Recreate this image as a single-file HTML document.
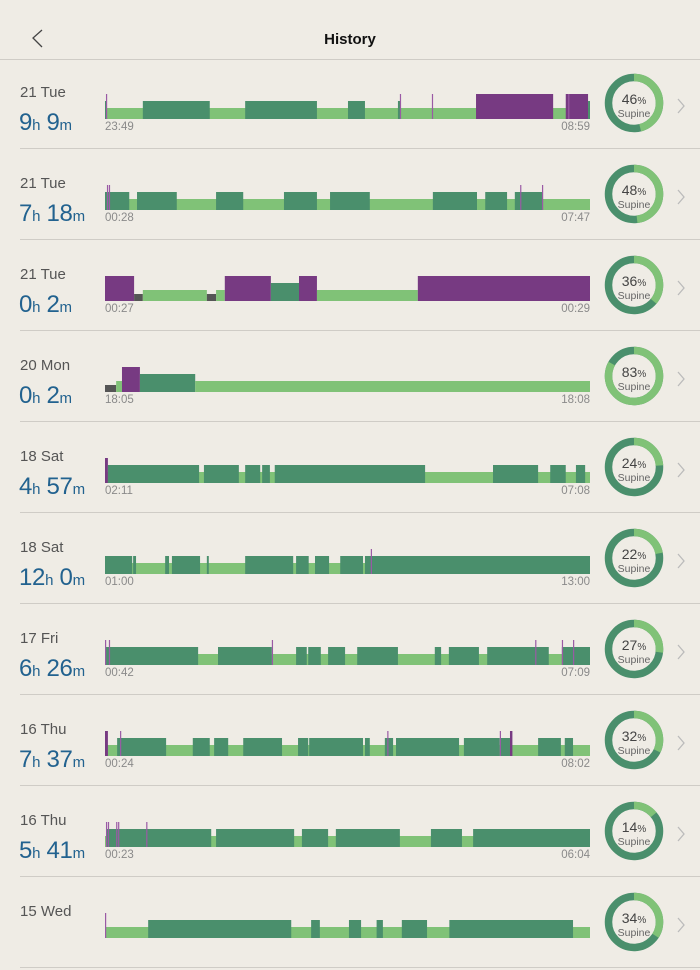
<!DOCTYPE html>
<html><head><meta charset="utf-8"><style>
body{margin:0;width:700px;height:934px;overflow:hidden;background:#efece5;font-family:"Liberation Sans",sans-serif;position:relative}
.hdr{position:absolute;left:0;top:0;width:700px;height:59px;border-bottom:1px solid #cfccc6}
.title{position:absolute;left:0;width:700px;top:31px;text-align:center;font-size:15px;font-weight:bold;color:#111}
.row{position:absolute;left:0;width:700px;height:91px}
.sep{position:absolute;left:20px;right:0;bottom:2px;height:1px;background:#cfccc6}
.date{position:absolute;left:20px;top:24px;font-size:15px;color:#555}
.dur{position:absolute;left:19px;top:49px;font-size:24px;color:#22628f;white-space:nowrap;letter-spacing:-0.3px}
.dur small{font-size:15px}
.t{position:absolute;top:61px;font-size:11.5px;color:#8a8a8a}
svg.bar{position:absolute;left:0;top:0}
</style></head><body>
<div class="hdr">
<svg style="position:absolute;left:30px;top:28px" width="16" height="22"><polyline points="12,2 3,10 12,19" fill="none" stroke="#444" stroke-width="1.3"/></svg>
<div class="title">History</div>
</div>
<div id="list"></div>
<script>
const dates=["21 Tue","21 Tue","21 Tue","20 Mon","18 Sat","18 Sat","17 Fri","16 Thu","16 Thu","15 Wed"];
const hours=[9,7,0,0,4,12,6,7,5,""];
const mins=[9,18,2,2,57,0,26,37,41,""];
const startTimes=["23:49","00:28","00:27","18:05","02:11","01:00","00:42","00:24","00:23",""];
const endTimes=["08:59","07:47","00:29","18:08","07:08","13:00","07:09","08:02","06:04",""];
const supine=[46,48,36,83,24,22,27,32,14,34];
// segments: [start%, end%, type] type: L light, D dark, P purple, G gray
const segments=[
[[0,100,"L"],[0,0.4,"D"],[7.8,21.6,"D"],[28.9,43.7,"D"],[50.1,53.6,"D"],[60.4,61,"D"],[76.5,92.4,"P"],[95,99.6,"P"],[99.6,100,"D"]],
[[0,100,"L"],[0,5,"D"],[6.6,14.8,"D"],[22.9,28.5,"D"],[36.9,43.7,"D"],[46.4,54.6,"D"],[67.6,76.7,"D"],[78.4,82.9,"D"],[84.5,90.1,"D"]],
[[0,6,"P"],[6,7.8,"G"],[7.8,21,"L"],[21,22.9,"G"],[22.9,24.7,"L"],[24.7,34.2,"P"],[34.2,40,"D"],[40,43.7,"P"],[43.7,64.5,"L"],[64.5,100,"P"]],
[[0,2.3,"G"],[2.3,3.5,"L"],[3.5,7.2,"P"],[7.2,18.6,"D"],[18.6,100,"L"]],
[[0,100,"L"],[0,0.6,"P"],[0.6,19.4,"D"],[20.4,27.6,"D"],[28.9,32,"D"],[32.4,34,"D"],[35,66,"D"],[80,89.3,"D"],[91.8,95,"D"],[97.1,99,"D"]],
[[0,100,"L"],[0,5.6,"D"],[5.8,6.4,"D"],[12.4,13.2,"D"],[13.8,19.6,"D"],[21,21.4,"D"],[28.9,38.8,"D"],[39.4,42,"D"],[43.3,46.2,"D"],[48.5,53.2,"D"],[53.6,100,"D"]],
[[0,100,"L"],[0,19.2,"D"],[23.3,34.4,"D"],[39.4,41.6,"D"],[41.9,44.5,"D"],[46,49.5,"D"],[52,60.4,"D"],[68,69.3,"D"],[70.9,77.1,"D"],[78.8,91.5,"D"],[94.2,100,"D"]],
[[0,100,"L"],[0,0.6,"P"],[2.5,12.6,"D"],[18.1,21.6,"D"],[22.5,25.4,"D"],[28.5,36.5,"D"],[39.8,41.9,"D"],[42.1,53.2,"D"],[53.6,54.6,"D"],[57.7,59.4,"D"],[60,73,"D"],[74,81.4,"D"],[81.6,83.5,"D"],[83.5,84,"P"],[89.3,94,"D"],[94.8,96.5,"D"]],
[[0,100,"L"],[0.4,21.9,"D"],[22.9,39,"D"],[40.6,46,"D"],[47.6,60.8,"D"],[67.2,73.6,"D"],[75.9,100,"D"]],
[[0,100,"L"],[8.9,38.4,"D"],[42.5,44.3,"D"],[50.3,52.8,"D"],[56,57.3,"D"],[61.2,66.4,"D"],[71,96.5,"D"]]
];
// thin movement lines (position %)
const ticks=[[0.2,60.8,67.4,95.5],[0.4,0.8,85.6,90.1],[],[],[],[54.8],[0,0.8,34.4,88.7,94.2,96.5],[3.1,58.2,81.4],[0.2,0.6,2.3,2.7,8.5],[0]];
const X0=105,W=485,BOT=59;
const colors={L:"#80c277",D:"#4a8f6c",P:"#773a82",G:"#555"};
const heights={L:11,D:18,P:25,G:7};
const x=p=>X0+p/100*W;
const list=document.getElementById('list');
const NS="http://www.w3.org/2000/svg";
dates.forEach((d,i)=>{
  const row=document.createElement('div');row.className='row';row.style.top=(60+91*i)+'px';
  
  
  let h='<div class="sep"></div><div class="date">'+d+'</div>';
  if(hours[i]!=="")h+='<div class="dur">'+hours[i]+'<small>h</small> '+mins[i]+'<small>m</small></div>';
  h+='<div class="t" style="left:105px">'+startTimes[i]+'</div>';
  h+='<div class="t" style="right:110px">'+endTimes[i]+'</div>';
  row.innerHTML=h;
  const svg=document.createElementNS(NS,'svg');svg.setAttribute('class','bar');svg.setAttribute('width',700);svg.setAttribute('height',91);
  
  
  segments[i].forEach(s=>{
    const r=document.createElementNS(NS,'rect');
    const hh=heights[s[2]];
    r.setAttribute('x',x(s[0]));r.setAttribute('width',Math.max(1,x(s[1])-x(s[0])));
    r.setAttribute('y',BOT-hh);r.setAttribute('height',hh);r.setAttribute('fill',colors[s[2]]);
    
    
    svg.appendChild(r);
  });
  ticks[i].forEach(t=>{
    const r=document.createElementNS(NS,'rect');
    r.setAttribute('x',x(t));r.setAttribute('width',1.2);r.setAttribute('y',BOT-25);r.setAttribute('height',25);r.setAttribute('fill','#9a5aa5');
    
    
    svg.appendChild(r);
  });
  const cx=634,cy=43,R=25.5,C=2*Math.PI*R;
  const bg=document.createElementNS(NS,'circle');
  bg.setAttribute('cx',cx);bg.setAttribute('cy',cy);bg.setAttribute('r',R);bg.setAttribute('fill','none');bg.setAttribute('stroke','#4a8f6c');bg.setAttribute('stroke-width',7.5);
  
  
  svg.appendChild(bg);
  const arc=document.createElementNS(NS,'circle');
  arc.setAttribute('cx',cx);arc.setAttribute('cy',cy);arc.setAttribute('r',R);arc.setAttribute('fill','none');arc.setAttribute('stroke','#80c277');arc.setAttribute('stroke-width',7.5);
  arc.setAttribute('stroke-dasharray',(supine[i]/100*C)+' '+C);
  arc.setAttribute('transform','rotate(-90 '+cx+' '+cy+')');
  
  
  svg.appendChild(arc);
  const tx=document.createElementNS(NS,'text');
  tx.setAttribute('x',cx);tx.setAttribute('y',cy+1);tx.setAttribute('text-anchor','middle');tx.setAttribute('font-size',14);tx.setAttribute('fill','#444');tx.setAttribute('font-family','Liberation Sans');
  tx.innerHTML=supine[i]+'<tspan font-size="10">%</tspan>';
  
  
  svg.appendChild(tx);
  const lb=document.createElementNS(NS,'text');
  lb.setAttribute('x',cx);lb.setAttribute('y',cy+14);lb.setAttribute('text-anchor','middle');lb.setAttribute('font-size',10.5);lb.setAttribute('fill','#666');lb.setAttribute('font-family','Liberation Sans');
  lb.textContent='Supine';
  
  
  svg.appendChild(lb);
  const ch=document.createElementNS(NS,'polyline');
  ch.setAttribute('points','678,39 684,46 678,53');ch.setAttribute('fill','none');ch.setAttribute('stroke','#bbb');ch.setAttribute('stroke-width',1.3);
  
  
  svg.appendChild(ch);
  row.appendChild(svg);
  list.appendChild(row);
});
</script>
</body></html>
